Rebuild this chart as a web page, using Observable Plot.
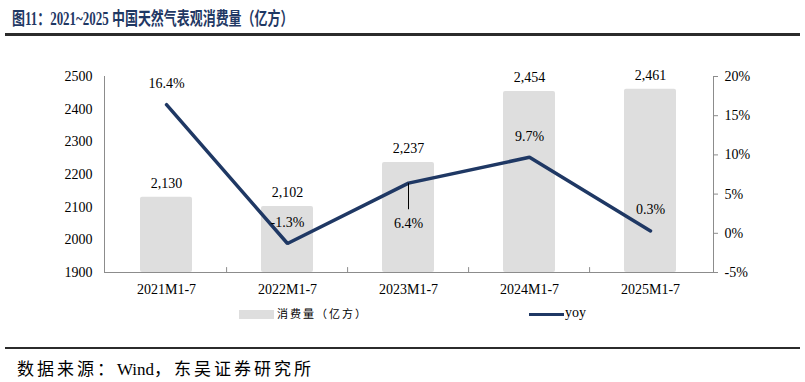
<!DOCTYPE html>
<html><head><meta charset="utf-8">
<script src="https://cdn.jsdelivr.net/npm/d3@7"></script>
<script src="https://cdn.jsdelivr.net/npm/@observablehq/plot@0.6"></script>
<style>
body{margin:0;background:#fff;}
#wrap{position:relative;width:805px;height:382px;overflow:hidden;font-family:"Liberation Serif","Noto Sans CJK SC",serif;color:#000;}
#title{position:absolute;left:12px;top:4px;font-size:18px;font-weight:bold;color:#1f3864;white-space:nowrap;transform:scaleX(0.72);transform-origin:0 0;font-family:"Liberation Serif","Noto Sans CJK SC",serif;}
#trule{position:absolute;left:5px;top:33px;width:795px;height:3px;background:#2b2b2b;}
#chart{position:absolute;left:0;top:40px;}
.leg{position:absolute;white-space:nowrap;}
#srule{position:absolute;left:5px;top:347px;width:795px;height:2px;background:#2b2b2b;}
#source{position:absolute;left:17px;top:355px;font-size:17px;letter-spacing:3px;white-space:nowrap;}
#source span{letter-spacing:0;}
</style></head><body>
<div id="wrap">
  <div id="title">图11：2021~2025 中国天然气表观消费量（亿方）</div>
  <div id="trule"></div>
  <div id="chart"></div>
  <div class="leg" style="left:239px;top:310px;width:35px;height:9px;background:#dedede;"></div>
  <div class="leg" style="left:277px;top:305px;font-size:11px;letter-spacing:2px;font-family:'Noto Sans CJK SC',sans-serif;">消费量（亿方）</div>
  <div class="leg" style="left:529px;top:313px;width:35px;height:3px;background:#1f3864;"></div>
  <div class="leg" style="left:565px;top:305px;font-size:14px;">yoy</div>
  <div id="srule"></div>
  <div id="source">数据来源：<span>Wind</span>，东吴证券研究所</div>
</div>
<script>
const categories = ["2021M1-7","2022M1-7","2023M1-7","2024M1-7","2025M1-7"];
const consumption = [2130, 2102, 2237, 2454, 2461];
const yoy = [16.4, -1.3, 6.4, 9.7, 0.3];
const leftTicks = [1900, 2000, 2100, 2200, 2300, 2400, 2500];
const yoyTicks = [-5, 0, 5, 10, 15, 20];

const data = categories.map((c, i) => ({cat: c, val: consumption[i], yoy: yoy[i]}));
// map yoy (-5..20 %) onto the left scale (1900..2500)
const toLeft = v => 1900 + (v + 5) * 24;
const fromLeft = d => Math.round((d - 1900) / 24 - 5);

const W = 805, H = 295, mL = 104, mR = 92, mT = 36, mB = 63;
const step = (W - mL - mR) / categories.length;
const navy = "#1f3864", axisGray = "#8c8c8c";

const chart = Plot.plot({
  width: W, height: H,
  marginLeft: mL, marginRight: mR, marginTop: mT, marginBottom: mB,
  style: {fontFamily: "Liberation Serif, serif", fontSize: "14px", color: "#000", background: "transparent"},
  x: {type: "band", domain: categories, paddingInner: 0.57, paddingOuter: 0.285, label: null},
  y: {domain: [1900, 2500], label: null},
  marks: [
    Plot.barY(data, {x: "cat", y1: 1900, y2: "val", fill: "#dedede", rx: 2}),
    Plot.ruleY([1900], {stroke: axisGray}),
    Plot.frame({anchor: "left", stroke: axisGray}),
    Plot.frame({anchor: "right", stroke: axisGray}),
    Plot.ruleX(categories.slice(1), {x: d => d, y1: 1900, y2: 1915, dx: -step / 2, stroke: axisGray}),
    Plot.axisY({ticks: leftTicks, tickSize: 0, tickPadding: 12, tickFormat: d => String(d), label: null, fontSize: 14}),
    Plot.axisY({anchor: "right", ticks: yoyTicks.map(toLeft), tickFormat: d => fromLeft(d) + "%", tickSize: 4, tickPadding: 7, stroke: axisGray, fill: "#000", label: null, fontSize: 14}),
    Plot.axisX({tickSize: 0, tickPadding: 12, label: null, fontSize: 14}),
    Plot.text(data, {x: "cat", y: "val", text: d => d3.format(",")(d.val), dy: -14, fontSize: 14, fill: "#000"}),
    Plot.line(data, {x: "cat", y: d => toLeft(d.yoy), stroke: navy, strokeWidth: 3.5, strokeLinejoin: "miter"}),
    Plot.link(data.filter(d => d.cat === "2023M1-7"), {x1: "cat", x2: "cat", y1: d => toLeft(d.yoy), y2: d => toLeft(d.yoy) - 80, stroke: "#000", strokeWidth: 1}),
    Plot.text(data.filter(d => d.cat !== "2023M1-7"), {x: "cat", y: d => toLeft(d.yoy), text: d => d.yoy.toFixed(1) + "%", dy: -21, fontSize: 14, fill: "#000"}),
    Plot.text(data.filter(d => d.cat === "2023M1-7"), {x: "cat", y: d => toLeft(d.yoy), text: d => d.yoy.toFixed(1) + "%", dy: 40, fontSize: 14, fill: "#000"})
  ]
});
document.getElementById("chart").appendChild(chart);
</script>
</body></html>
